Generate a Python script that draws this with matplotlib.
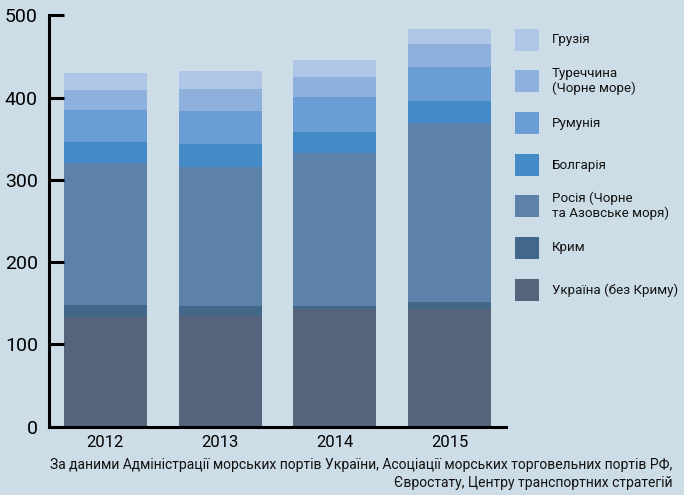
import matplotlib
matplotlib.use("Agg")
import matplotlib.pyplot as plt
from matplotlib.patches import Rectangle
import numpy as np

plt.rcParams['font.family'] = ['Roboto', 'DejaVu Sans']

years = ["2012", "2013", "2014", "2015"]
series_names = ["Україна (без Криму)", "Крим", "Росія (Чорне\nта Азовське моря)",
                "Болгарія", "Румунія", "Туреччина\n(Чорне море)", "Грузія"]
ukraine = [133, 134, 143, 143]
crimea = [15, 12, 4, 8.5]
russia = [172, 169, 185, 217]
bulgaria = [26, 28, 26, 27]
romania = [39, 41, 43, 42]
turkey = [24, 26, 24, 27]
georgia = [21, 22, 21, 19]
yticks = [0, 100, 200, 300, 400, 500]
source = ("За даними Адміністрації морських портів України, Асоціації морських торговельних портів РФ,\n"
          "Євростату, Центру транспортних стратегій")

colors = ["#55647c", "#436789", "#5c82ab", "#438ac7", "#6a9dd3", "#8db0dc", "#b0c6e6"]
bg = "#cddde7"

data = [ukraine, crimea, russia, bulgaria, romania, turkey, georgia]

W, H = 684, 495
fig = plt.figure(figsize=(W / 100, H / 100), dpi=100, facecolor=bg)
ax = fig.add_axes([49 / W, (H - 426.5) / H, (506 - 49) / W, (426.5 - 15.3) / H])
ax.set_facecolor(bg)

x = np.arange(len(years))
bottom = np.zeros(len(years))
for vals, c in zip(data, colors):
    v = np.array(vals, dtype=float)
    ax.bar(x, v, bottom=bottom, width=0.724, color=c, linewidth=0)
    bottom += v

ax.set_xlim(-0.49, 3.49)
ax.set_ylim(0, 500)
ax.set_yticks(yticks)
ax.set_yticklabels([str(t) for t in yticks], fontsize=14)
ax.set_xticks(x)
ax.set_xticklabels(years, fontsize=12)
ax.tick_params(axis='y', direction='in', length=11, width=2.2, pad=8, colors='black')
ax.tick_params(axis='x', length=0, pad=6)
for s in ['top', 'right']:
    ax.spines[s].set_visible(False)
for s in ['left', 'bottom']:
    ax.spines[s].set_linewidth(2.2)
    ax.spines[s].set_color('black')

# legend (manual)
leg_y = [40, 81, 123, 165, 206, 248, 290]
leg_order = list(range(6, -1, -1))
for yy, idx in zip(leg_y, leg_order):
    fig.patches.append(Rectangle((515 / W, (H - yy - 11) / H), 24 / W, 22 / H,
                                 transform=fig.transFigure, facecolor=colors[idx],
                                 edgecolor='none'))
    fig.text(552 / W, (H - yy) / H, series_names[idx], fontsize=9.6, va='center',
             ha='left', linespacing=1.1, color='#111111')

fig.text(672 / W, (H - 474) / H, source, fontsize=10, ha='right', va='center',
         multialignment='right', linespacing=1.45, color='#111111')

fig.savefig("out.png", dpi=100, facecolor=bg)
